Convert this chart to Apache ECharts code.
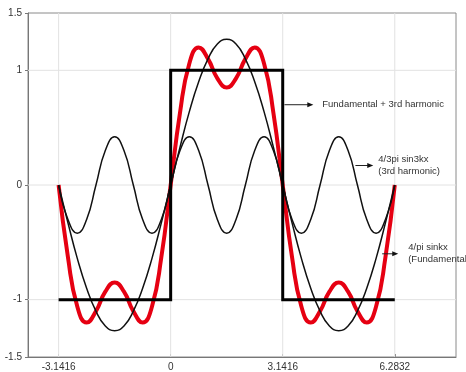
<!DOCTYPE html>
<html>
<head>
<meta charset="utf-8">
<script src="https://cdn.jsdelivr.net/npm/echarts@6/dist/echarts.min.js"></script>
<style>
  html, body { margin: 0; padding: 0; background: #fff; }
  #chart { width: 466px; height: 372px; }
</style>
</head>
<body>
<div id="chart"></div>
<script>
// Sample positions (radians), -pi .. 2pi in steps of pi/12
const xVals = [-3.1416, -2.8798, -2.6180, -2.3562, -2.0944, -1.8326, -1.5708, -1.3090, -1.0472,
  -0.7854, -0.5236, -0.2618, 0, 0.2618, 0.5236, 0.7854, 1.0472, 1.3090, 1.5708, 1.8326, 2.0944,
  2.3562, 2.6180, 2.8798, 3.1416, 3.4034, 3.6652, 3.9270, 4.1888, 4.4506, 4.7124, 4.9742, 5.2360,
  5.4978, 5.7596, 6.0214, 6.2832];

// 4/pi sin x  (fundamental)
const fundVals = [0, -0.33, -0.64, -0.90, -1.10, -1.23, -1.27, -1.23, -1.10, -0.90, -0.64, -0.33,
  0, 0.33, 0.64, 0.90, 1.10, 1.23, 1.27, 1.23, 1.10, 0.90, 0.64, 0.33,
  0, -0.33, -0.64, -0.90, -1.10, -1.23, -1.27, -1.23, -1.10, -0.90, -0.64, -0.33, 0];

// 4/(3pi) sin 3x  (3rd harmonic)
const harmVals = [0, -0.30, -0.42, -0.30, 0, 0.30, 0.42, 0.30, 0, -0.30, -0.42, -0.30,
  0, 0.30, 0.42, 0.30, 0, -0.30, -0.42, -0.30, 0, 0.30, 0.42, 0.30,
  0, -0.30, -0.42, -0.30, 0, 0.30, 0.42, 0.30, 0, -0.30, -0.42, -0.30, 0];

// fundamental + 3rd harmonic
const sumVals = [0, -0.63, -1.06, -1.20, -1.10, -0.93, -0.85, -0.93, -1.10, -1.20, -1.06, -0.63,
  0, 0.63, 1.06, 1.20, 1.10, 0.93, 0.85, 0.93, 1.10, 1.20, 1.06, 0.63,
  0, -0.63, -1.06, -1.20, -1.10, -0.93, -0.85, -0.93, -1.10, -1.20, -1.06, -0.63, 0];

// square wave corners
const squareX = [-3.1416, 0, 0, 3.1416, 3.1416, 6.2832];
const squareY = [-1, -1, 1, 1, -1, -1];

// axis ranges and ticks
const xRange = [-4, 8];
const yRange = [-1.5, 1.5];
const xTicks = [-3.1416, 0, 3.1416, 6.2832];
const xTickLabels = ['-3.1416', '0', '3.1416', '6.2832'];
const yTicks = [-1.5, -1, 0, 1, 1.5];
const yTickLabels = ['-1.5', '-1', '0', '1', '1.5'];
const yGrid = [-1, 0, 1];

// callouts, in data coordinates
const callouts = [
  { lines: ['Fundamental + 3rd harmonic'], from: [3.19, 0.70], to: [4.00, 0.70], textX: 4.25 },
  { lines: ['4/3pi sin3kx', '(3rd harmonic)'], from: [5.18, 0.17], to: [5.68, 0.17], textX: 5.82 },
  { lines: ['4/pi sinkx', '(Fundamental'], from: [5.93, -0.60], to: [6.38, -0.60], textX: 6.66 }
];

const zip = (xs, ys) => xs.map((x, i) => [x, ys[i]]);
const lookup = (vals, labels) => v => {
  const i = vals.findIndex(t => Math.abs(t - v) < 1e-3);
  return i >= 0 ? labels[i] : '';
};

const FONT = '"Liberation Sans", Arial, sans-serif';
const chart = echarts.init(document.getElementById('chart'), null, { renderer: 'canvas' });

// light grid lines at the labelled ticks, kept beneath the curves
const gridSeries = xTicks.map(v => [[v, yRange[0]], [v, yRange[1]]])
  .concat(yGrid.map(v => [[xRange[0], v], [xRange[1], v]]))
  .map(pts => ({
    type: 'line', z: 1, silent: true, data: pts, symbol: 'none', showSymbol: false,
    lineStyle: { color: '#e2e2e2', width: 1 }
  }));

chart.setOption({
  animation: false,
  backgroundColor: '#fff',
  grid: { left: 28, right: 10, top: 13, bottom: 13, show: true, borderColor: '#8a8a8a', borderWidth: 1 },
  xAxis: {
    type: 'value', min: xRange[0], max: xRange[1],
    axisLine: { show: true, onZero: false, lineStyle: { color: '#777', width: 1 } },
    axisTick: { show: true, inside: true, length: 3, customValues: xTicks, lineStyle: { color: '#777' } },
    axisLabel: { customValues: xTicks, formatter: lookup(xTicks, xTickLabels), color: '#333',
      fontSize: 10, fontFamily: FONT, margin: 5 },
    splitLine: { show: false }
  },
  yAxis: {
    type: 'value', min: yRange[0], max: yRange[1],
    axisLine: { show: true, onZero: false, lineStyle: { color: '#777', width: 1 } },
    axisTick: { show: true, inside: false, length: 3, customValues: yTicks, lineStyle: { color: '#777' } },
    axisLabel: { customValues: yTicks, formatter: lookup(yTicks, yTickLabels), color: '#333',
      fontSize: 10, fontFamily: FONT, margin: 6 },
    splitLine: { show: false }
  },
  series: gridSeries.concat([
    {
      name: 'Fundamental + 3rd harmonic', type: 'line', z: 2, smooth: 0.5,
      data: zip(xVals, sumVals), showSymbol: false, symbol: 'none',
      lineStyle: { color: '#e60012', width: 4 }
    },
    {
      name: '4/pi sinkx', type: 'line', z: 3, smooth: 0.5,
      data: zip(xVals, fundVals), showSymbol: false, symbol: 'none',
      lineStyle: { color: '#111', width: 1.5 }
    },
    {
      name: '4/3pi sin3kx', type: 'line', z: 3, smooth: 0.5,
      data: zip(xVals, harmVals), showSymbol: false, symbol: 'none',
      lineStyle: { color: '#111', width: 1.5 }
    },
    {
      name: 'square wave', type: 'line', z: 4,
      data: zip(squareX, squareY), showSymbol: false, symbol: 'none',
      lineStyle: { color: '#000', width: 3, join: 'miter' }
    }
  ])
});

// callout arrows and labels
const elements = [];
callouts.forEach(c => {
  const p1 = chart.convertToPixel({ gridIndex: 0 }, c.from);
  const p2 = chart.convertToPixel({ gridIndex: 0 }, c.to);
  const pt = chart.convertToPixel({ gridIndex: 0 }, [c.textX, c.from[1]]);
  elements.push({
    type: 'line', z: 10,
    shape: { x1: p1[0], y1: p1[1], x2: p2[0] - 4, y2: p2[1] },
    style: { stroke: '#222', lineWidth: 1 }
  });
  elements.push({
    type: 'polygon', z: 10,
    shape: { points: [[p2[0], p2[1]], [p2[0] - 6, p2[1] - 2.5], [p2[0] - 6, p2[1] + 2.5]] },
    style: { fill: '#111' }
  });
  elements.push({
    type: 'text', z: 10,
    style: {
      x: pt[0], y: pt[1], text: c.lines.join('\n'),
      fontSize: 9.5, fontFamily: FONT, fill: '#333',
      align: 'left', verticalAlign: 'middle', lineHeight: 12
    }
  });
});
chart.setOption({ graphic: elements });
</script>
</body>
</html>
